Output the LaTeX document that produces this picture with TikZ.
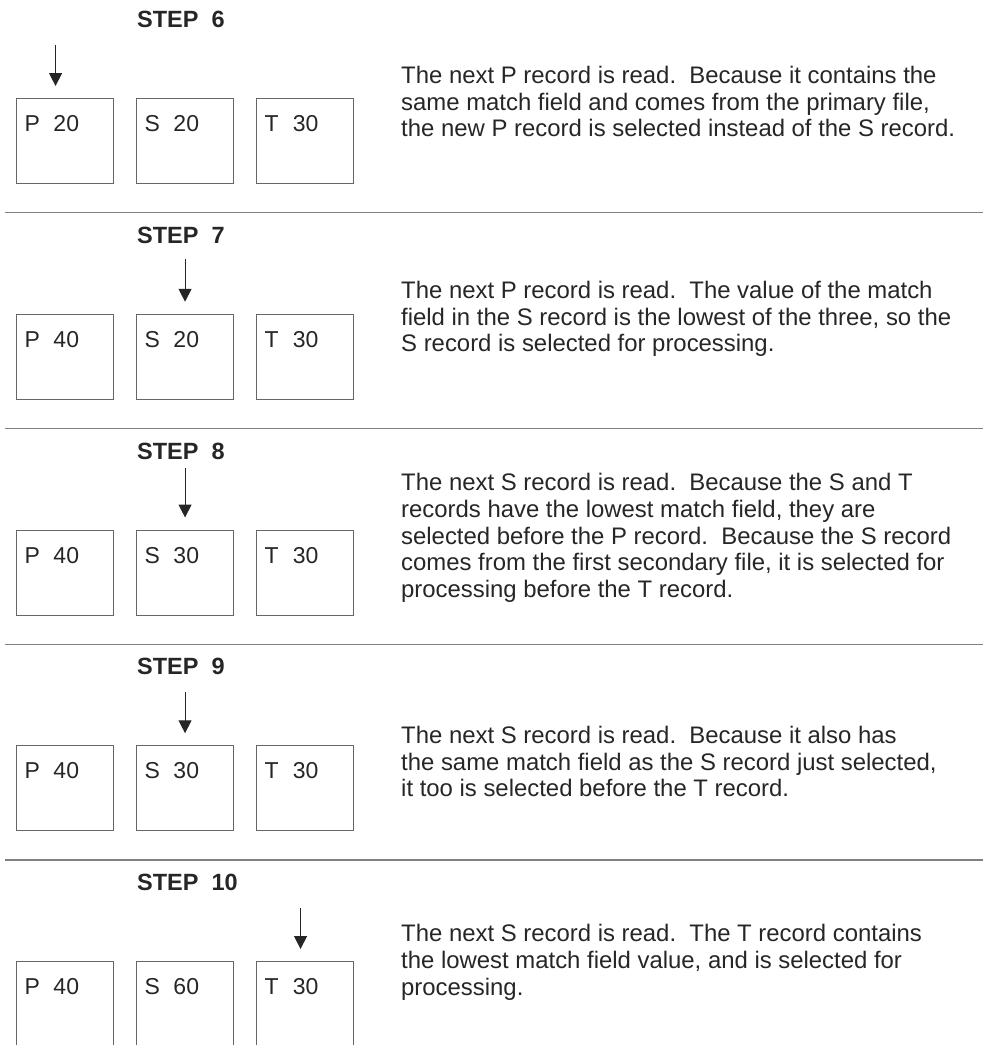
\documentclass[tikz,border=0pt]{standalone}
\usepackage{fontspec}
\setmainfont{Liberation Sans}
\usetikzlibrary{arrows.meta, positioning, calc}
\definecolor{boxgray}{gray}{0.4}
\definecolor{rulegray}{gray}{0.5}
\definecolor{inkgray}{gray}{0.15}
\tikzset{
    recbox/.style={draw=boxgray, line width=1.1pt, minimum width=97pt, minimum height=85pt, inner sep=0pt, anchor=north west},
    reclabel/.style={anchor=base west, inner sep=0pt, text=inkgray, font=\fontsize{23}{26}\selectfont},
    steptitle/.style={anchor=base west, inner sep=0pt, text=inkgray, font=\bfseries\fontsize{23.5}{26}\selectfont},
    desc/.style={anchor=base west, inner sep=0pt, align=left, text=inkgray, font=\fontsize{23.9}{26.7}\selectfont},
    selarrow/.style={-{Triangle[width=13pt, length=13pt]}, line width=1.1pt, draw=inkgray},
    separator/.style={draw=rulegray, line width=1.3pt}
}

\begin{document}
\begin{tikzpicture}[x=1pt, y=-1pt]
    \useasboundingbox (0,0) rectangle (983,1045);

    % Un blocco per ogni step: scostamento, campi P/S/T, record scelto, spostamento e inizio freccia
    \foreach \n/\yoff/\pval/\sval/\tval/\sel/\dx/\ytop in {
        6/0/20/20/30/p/-9.5/45,
        7/215.75/40/20/30/s/0/43,
        8/431.5/40/30/30/s/0/36.5,
        9/647.25/40/30/30/s/0/44.5,
        10/863/40/60/30/t/-4.5/45.3
    }{
        \begin{scope}[shift={(0,\yoff)}]
            % Titolo
            \node[steptitle] (title\n) at (137, 27.7) {STEP\ \ \n};

            % Record P, S, T
            \node[recbox] (p\n) at (16, 98) {};
            \node[recbox] (s\n) at (136, 98) {};
            \node[recbox] (t\n) at (256, 98) {};
            \node[reclabel] (pl\n) at ([shift={(8.3,33.7)}]p\n.north west) {\makebox[29pt][l]{P}\pval};
            \node[reclabel] (sl\n) at ([shift={(8.3,33.7)}]s\n.north west) {\makebox[29pt][l]{S}\sval};
            \node[reclabel] (tl\n) at ([shift={(8.3,33.7)}]t\n.north west) {\makebox[28.4pt][l]{T}\tval};

            % Freccia sul record selezionato
            \coordinate (top\n) at ([shift={(\dx,\ytop-98)}]\sel\n.north);
            \coordinate (tip\n) at ([shift={(\dx,-12)}]\sel\n.north);
            \draw[selarrow] (top\n) -- (tip\n);
        \end{scope}
    }

    % Descrizioni (base = ultima riga)
    \node[desc] (desc6) at (401, 136.7) {The next P record is read.\ \ Because it contains the\\same match field and comes from the primary file,\\the new P record is selected instead of the S record.};
    \node[desc] (desc7) at (401, 351.7) {The next P record is read.\ \ The value of the match\\field in the S record is the lowest of the three, so the\\S record is selected for processing.};
    \node[desc] (desc8) at (401, 597.5) {The next S record is read.\ \ Because the S and T\\records have the lowest match field, they are\\selected before the P record.\ \ Because the S record\\comes from the first secondary file, it is selected for\\processing before the T record.};
    \node[desc] (desc9) at (401, 796.7) {The next S record is read.\ \ Because it also has\\the same match field as the S record just selected,\\it too is selected before the T record.};
    \node[desc] (desc10) at (401, 995) {The next S record is read.\ \ The T record contains\\the lowest match field value, and is selected for\\processing.};

    % Linee di separazione
    \foreach \ys in {212.75, 428.5, 644.25, 860}
        \draw[separator] (5, \ys) -- (983, \ys);
\end{tikzpicture}
\end{document}
